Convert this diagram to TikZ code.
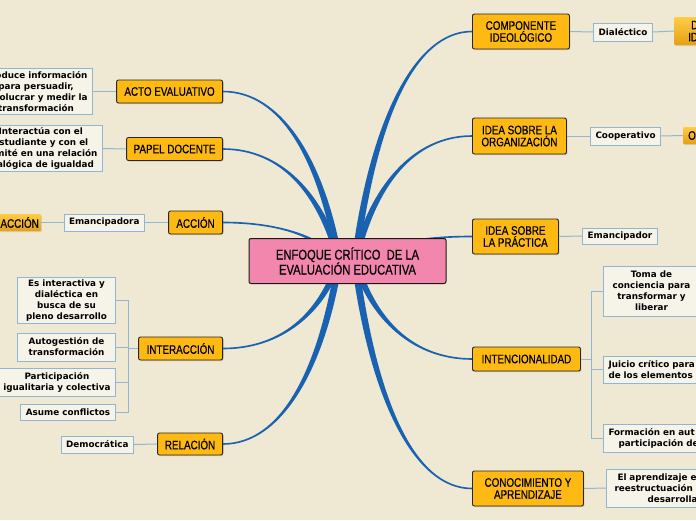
\documentclass[tikz,border=0pt]{standalone}
\usepackage{fontspec}
\setmainfont{Liberation Sans}
\newfontfamily\topicfont[FakeStretch=0.8,FakeBold=0.4]{Liberation Sans}
\newfontfamily\leaffont{DejaVu Sans}
\usetikzlibrary{positioning,calc,backgrounds,shadows}
\definecolor{paper}{RGB}{239,232,210}
\definecolor{rootpink}{RGB}{242,134,172}
\definecolor{topicorange}{RGB}{254,186,18}
\definecolor{subtop}{RGB}{255,204,70}
\definecolor{subbottom}{RGB}{228,160,20}
\definecolor{branchblue}{RGB}{25,98,178}
\definecolor{leafline}{RGB}{145,182,212}
\definecolor{leaffill}{RGB}{246,243,232}
\tikzset{
  rootbox/.style={rectangle, rounded corners=2pt, draw=black!90, line width=1pt, fill=rootpink,
                  minimum width=197pt, minimum height=45pt, align=center,
                  font=\topicfont\fontsize{14}{15}\selectfont},
  topicbox/.style={rectangle, rounded corners=2pt, draw=black!85, line width=0.9pt, fill=topicorange,
                   minimum height=23pt, inner xsep=4pt, inner ysep=2pt, align=center,
                   font=\topicfont\fontsize{12.3}{12}\selectfont,
                   drop shadow={shadow xshift=1pt, shadow yshift=-1pt, opacity=0.35}},
  subtopic/.style={rectangle, rounded corners=1pt, top color=subtop, bottom color=subbottom,
                   minimum height=17pt, inner xsep=2pt, inner ysep=1pt,
                   font=\topicfont\fontsize{12.3}{12}\selectfont,
                   drop shadow={shadow xshift=1pt, shadow yshift=-1pt, opacity=0.25}},
  leafbox/.style={rectangle, draw=leafline, line width=1pt, fill=leaffill, align=center,
                  inner xsep=5pt, inner ysep=2.5pt, text=black,
                  font=\leaffont\bfseries\fontsize{8.8}{11}\selectfont},
  leafleft/.style={leafbox, align=left, text width=110pt},
  twig/.style={draw=leafline, line width=1pt},
}
% tapered main branch from a hub under the centre to a topic
\newcommand{\branch}[2]{%
  \fill[branchblue] let \p1=(#1), \p2=(#2),
      \n1={sign(\y2-\y1)}, \n2={sign(\x2-\x1)} in
    ({\x1-3.5*\n1},\y1) .. controls ({\x1+0.15*(\x2-\x1)-3.5*\n1},{\y1+0.6*(\y2-\y1)})
      and ({\x1+0.5*(\x2-\x1)},{\y2+1*\n2}) .. (\x2,{\y2+0.8*\n2})
    -- (\x2,{\y2-0.8*\n2}) .. controls ({\x1+0.5*(\x2-\x1)},{\y2-1*\n2})
      and ({\x1+0.15*(\x2-\x1)+3.5*\n1},{\y1+0.6*(\y2-\y1)}) .. ({\x1+3.5*\n1},\y1) -- cycle;}

\begin{document}
\begin{tikzpicture}[x=1pt, y=-1pt]
\useasboundingbox (0,0) rectangle (696,520);

% centre
\node[rootbox] (enfoque) at (347.5,261) {ENFOQUE CRÍTICO~ DE LA\\EVALUACIÓN EDUCATIVA};
\coordinate (lhub) at (339,261);
\coordinate (rhub) at (355,261);

% left topics
\node[topicbox, anchor=east, minimum width=106pt] (acto) at (223,91.5) {ACTO EVALUATIVO};
\node[topicbox, anchor=east, minimum width=96pt] (papel) at (223,149) {PAPEL DOCENTE};
\node[topicbox, anchor=east, minimum width=54pt] (accion) at (223,222.5) {ACCIÓN};
\node[topicbox, anchor=east, minimum width=84pt] (interaccion) at (223,348.5) {INTERACCIÓN};
\node[topicbox, anchor=east, minimum width=65pt, minimum height=22pt] (relacion) at (223,444) {RELACIÓN};

% right topics
\node[topicbox, anchor=west, minimum width=97pt, minimum height=35pt] (componente) at (472,31.5) {COMPONENTE\\IDEOLÓGICO};
\node[topicbox, anchor=west, minimum width=94pt, minimum height=36pt] (organizacion) at (472,136) {IDEA SOBRE LA\\ORGANIZACIÓN};
\node[topicbox, anchor=west, minimum width=86pt, minimum height=35pt] (practica) at (472,236.5) {IDEA SOBRE\\LA PRÁCTICA};
\node[topicbox, anchor=west, minimum width=108pt, minimum height=24pt] (intencionalidad) at (472,359) {INTENCIONALIDAD};
\node[topicbox, anchor=west, minimum width=111pt, minimum height=35pt] (conocimiento) at (472,488.5) {CONOCIMIENTO Y\\APRENDIZAJE};

% left leaves
\node[leafbox, anchor=east] (produce) at (93,91.5) {Produce información\\para persuadir,\\involucrar y medir la\\transformación};
\node[leafbox, anchor=east] (interactua) at (103,148.5) {Interactúa con el\\estudiante y con el\\comité en una relación\\dialógica de igualdad};
\node[leafbox, anchor=east, minimum width=80pt, minimum height=17pt] (emancipadora) at (145,222.5) {Emancipadora};
\node[subtopic, anchor=east, text width=50pt, align=right] (accionsub) at (41,222.5) {ACCIÓN};
\node[leafbox, anchor=east, minimum width=98pt] (esinteractiva) at (116,300.5) {Es interactiva y\\dialéctica en\\busca de su\\pleno desarrollo};
\node[leafbox, anchor=east, minimum width=98pt, minimum height=28pt] (autogestion) at (116,347) {Autogestión de\\transformación};
\node[leafbox, anchor=east, minimum height=28pt] (participacion) at (116,382) {Participación\\igualitaria y colectiva};
\node[leafbox, anchor=east, minimum width=95pt, minimum height=16pt] (asume) at (116,412) {Asume conflictos};
\node[leafbox, anchor=east, minimum width=72pt, minimum height=17pt] (democratica) at (134,444.5) {Democrática};

% right leaves
\node[leafbox, anchor=west, minimum width=58pt, minimum height=18pt] (dialectico) at (593,32) {Dialéctico};
\node[subtopic, anchor=west, text width=50pt, align=left, minimum height=28pt] (dsub) at (674,31) {\hspace*{15pt}D\\\hspace*{12pt}ID};
\node[leafbox, anchor=west, minimum width=69pt, minimum height=18pt] (cooperativo) at (590,136) {Cooperativo};
\node[subtopic, anchor=west, text width=50pt, align=left] (osub) at (683,135.5) {\hspace*{3pt}OR};
\node[leafbox, anchor=west, minimum width=75pt, minimum height=16pt] (emancipador) at (582,236) {Emancipador};
\node[leafbox, anchor=west, minimum width=96pt, minimum height=50pt] (toma) at (603,291) {Toma de\\conciencia para\\transformar y\\liberar};
\node[leafleft, anchor=west, minimum height=27pt] (juicio) at (603,369.5) {Juicio crítico para\\de los elementos};
\node[leafleft, anchor=west, minimum height=28pt] (formacion) at (603,438) {Formación en aut\\\hspace*{10pt}participación de};
\node[leafleft, anchor=west, minimum height=38pt] (aprendizaje) at (606,488) {\hspace*{6pt}El aprendizaje e\\\hspace*{3pt}reestructuación\\\hspace*{36pt}desarrolla};

% buses for the grouped leaves
\coordinate (ibus) at (128,348.5);
\coordinate (nbus) at (591,359);

\begin{scope}[on background layer]
\fill[paper] (0,0) rectangle (696,520);
\foreach \t in {acto.east, papel.east, accion.east, interaccion.east, relacion.east}
  \branch{lhub}{\t};
\foreach \t in {componente.west, organizacion.west, practica.west, intencionalidad.west, conocimiento.west}
  \branch{rhub}{\t};
\end{scope}

% twigs
\draw[twig] (acto.west) -- (produce.east);
\draw[twig] (papel.west) -- (interactua.east);
\draw[twig] (accion.west) -- (emancipadora.east);
\draw[twig] (emancipadora.west) -- (accionsub.east);
\draw[twig] (relacion.west) -- (democratica.east);
\draw[twig] (interaccion.west) -- (ibus);
\foreach \l in {esinteractiva, autogestion, participacion, asume}
  \draw[twig] (ibus) |- (\l.east);
\draw[twig] (componente.east) -- (dialectico.west);
\draw[twig] (dialectico.east) -- (dsub.west);
\draw[twig] (organizacion.east) -- (cooperativo.west);
\draw[twig] (cooperativo.east) -- (osub.west);
\draw[twig] (practica.east) -- (emancipador.west);
\draw[twig] (intencionalidad.east) -- (nbus);
\foreach \l in {toma, juicio, formacion}
  \draw[twig] (nbus) |- (\l.west);
\draw[twig] (conocimiento.east) -- (aprendizaje.west);
\end{tikzpicture}
\end{document}
